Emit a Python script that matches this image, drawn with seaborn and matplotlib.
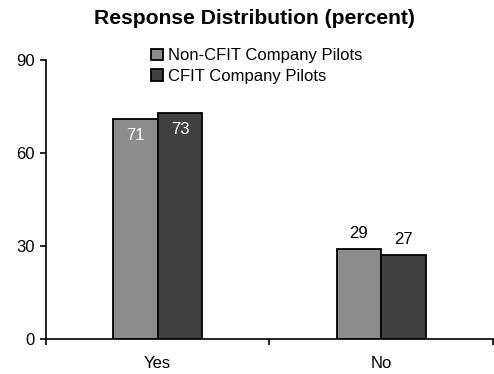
import matplotlib
matplotlib.use("Agg")
import matplotlib.pyplot as plt
import seaborn as sns
import pandas as pd

# Survey answers and the share of pilots giving each answer
answers = ["Yes", "No"]
groups = ["Non-CFIT Company Pilots", "CFIT Company Pilots"]
non_cfit = [71, 29]
cfit = [73, 27]
y_ticks = [0, 30, 60, 90]

df = pd.DataFrame({
    "answer": answers * 2,
    "group": [groups[0]] * len(answers) + [groups[1]] * len(answers),
    "percent": non_cfit + cfit,
})

sns.set_theme(style="white")
plt.rcParams["font.family"] = ["Liberation Sans", "DejaVu Sans"]
plt.rcParams.update({"text.color": "black", "axes.labelcolor": "black",
                     "xtick.color": "black", "ytick.color": "black"})

fig = plt.figure(figsize=(4.94, 3.74), dpi=100)
ax = fig.add_axes([0.093, 0.094, 0.905, 0.746])

palette = {groups[0]: "#8c8c8c", groups[1]: "#414141"}
sns.barplot(data=df, x="answer", y="percent", hue="group", order=answers,
            hue_order=groups, palette=palette, width=0.4, saturation=1,
            edgecolor="black", linewidth=1.3, ax=ax)

# Value labels: inside the tall bars, above the short ones
for container in ax.containers:
    for bar in container:
        h = bar.get_height()
        x = bar.get_x() + bar.get_width() / 2
        if h > 50:
            ax.text(x, h - 5.5, f"{h:.0f}", ha="center", va="center",
                    color="white", fontsize=12)
        else:
            ax.text(x, h + 5, f"{h:.0f}", ha="center", va="center",
                    color="black", fontsize=12)

ax.set_ylim(0, 90)
ax.set_xlim(-0.5, 1.5)
ax.set_yticks(y_ticks)
ax.set_xlabel("")
ax.set_ylabel("")

ax.set_xticks([-0.5, 0.5, 1.5], minor=True)
ax.tick_params(axis="x", which="major", length=0, labelsize=12, pad=12)
ax.tick_params(axis="x", which="minor", length=4, width=1.2,
               direction="out", bottom=True)
ax.tick_params(axis="y", which="major", length=4, width=1.2,
               direction="out", left=True, labelsize=12, pad=4)

for side in ["top", "right"]:
    ax.spines[side].set_visible(False)
for side in ["left", "bottom"]:
    ax.spines[side].set_color("black")
    ax.spines[side].set_linewidth(1.2)

leg = ax.legend(loc="upper left", bbox_to_anchor=(0.22, 1.065), frameon=False,
                fontsize=12, handlelength=0.7, handleheight=0.7,
                handletextpad=0.3, labelspacing=0.32, borderaxespad=0)

fig.suptitle("Response Distribution (percent)", fontsize=15.2,
             fontweight="bold", x=0.515, y=0.975)

fig.savefig("out.png", dpi=100)
